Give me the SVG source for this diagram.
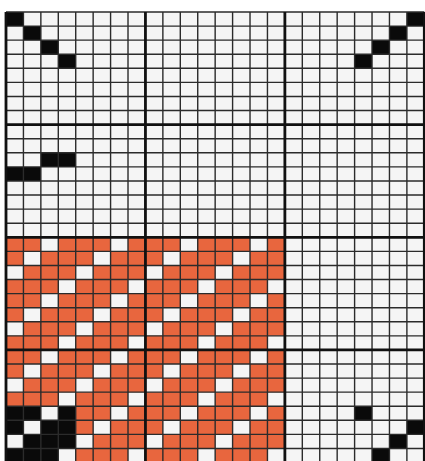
<svg xmlns="http://www.w3.org/2000/svg" width="425" height="461" viewBox="0 0 425 461">
<style>
.bg{fill:#f5f5f5}
.or{fill:#e8663e}
.bk{fill:#0a0a0a}
.wh{fill:#f5f5f5}
.thin{stroke:#2b2b2b;stroke-width:1.4;fill:none;vector-effect:non-scaling-stroke}
.thick{stroke:#111;stroke-width:2.8;fill:none;vector-effect:non-scaling-stroke}
</style>
<rect x="0" y="0" width="425" height="461" fill="#ffffff"/>
<g id="grid" transform="translate(6,12) scale(17.43,14.08)">
<g id="cells">
<rect class="bg" x="0" y="0" width="24" height="32"/>
<rect class="or" x="0" y="16" width="16" height="16"/>
<rect class="bk" x="0" y="28" width="4" height="4"/>
<path class="wh" d="M2 16h1v1h-1zM6 16h1v1h-1zM10 16h1v1h-1zM14 16h1v1h-1zM1 17h1v1h-1zM5 17h1v1h-1zM9 17h1v1h-1zM13 17h1v1h-1zM0 18h1v1h-1zM4 18h1v1h-1zM8 18h1v1h-1zM12 18h1v1h-1zM3 19h1v1h-1zM7 19h1v1h-1zM11 19h1v1h-1zM15 19h1v1h-1zM2 20h1v1h-1zM6 20h1v1h-1zM10 20h1v1h-1zM14 20h1v1h-1zM1 21h1v1h-1zM5 21h1v1h-1zM9 21h1v1h-1zM13 21h1v1h-1zM0 22h1v1h-1zM4 22h1v1h-1zM8 22h1v1h-1zM12 22h1v1h-1zM3 23h1v1h-1zM7 23h1v1h-1zM11 23h1v1h-1zM15 23h1v1h-1zM2 24h1v1h-1zM6 24h1v1h-1zM10 24h1v1h-1zM14 24h1v1h-1zM1 25h1v1h-1zM5 25h1v1h-1zM9 25h1v1h-1zM13 25h1v1h-1zM0 26h1v1h-1zM4 26h1v1h-1zM8 26h1v1h-1zM12 26h1v1h-1zM3 27h1v1h-1zM7 27h1v1h-1zM11 27h1v1h-1zM15 27h1v1h-1zM2 28h1v1h-1zM6 28h1v1h-1zM10 28h1v1h-1zM14 28h1v1h-1zM1 29h1v1h-1zM5 29h1v1h-1zM9 29h1v1h-1zM13 29h1v1h-1zM0 30h1v1h-1zM4 30h1v1h-1zM8 30h1v1h-1zM12 30h1v1h-1zM3 31h1v1h-1zM7 31h1v1h-1zM11 31h1v1h-1zM15 31h1v1h-1z"/>
<path class="bk" d="M0 0h1v1h-1zM1 1h1v1h-1zM2 2h1v1h-1zM3 3h1v1h-1zM23 0h1v1h-1zM22 1h1v1h-1zM21 2h1v1h-1zM20 3h1v1h-1zM2 10h2v1h-2zM0 11h2v1h-2zM20 28h1v1h-1zM23 29h1v1h-1zM22 30h1v1h-1zM21 31h1v1h-1z"/>
</g>
<g id="lines">
<path class="thin" d="M1 0V32M2 0V32M3 0V32M4 0V32M5 0V32M6 0V32M7 0V32M9 0V32M10 0V32M11 0V32M12 0V32M13 0V32M14 0V32M15 0V32M17 0V32M18 0V32M19 0V32M20 0V32M21 0V32M22 0V32M23 0V32M0 0H24M0 1H24M0 2H24M0 3H24M0 4H24M0 5H24M0 6H24M0 7H24M0 9H24M0 10H24M0 11H24M0 12H24M0 13H24M0 14H24M0 15H24M0 17H24M0 18H24M0 19H24M0 20H24M0 21H24M0 22H24M0 23H24M0 25H24M0 26H24M0 27H24M0 28H24M0 29H24M0 30H24M0 31H24"/>
<path class="thick" d="M0 0V32M8 0V32M16 0V32M24 0V32M0 8H24M0 16H24M0 24H24"/>
</g>
</g>
</svg>
